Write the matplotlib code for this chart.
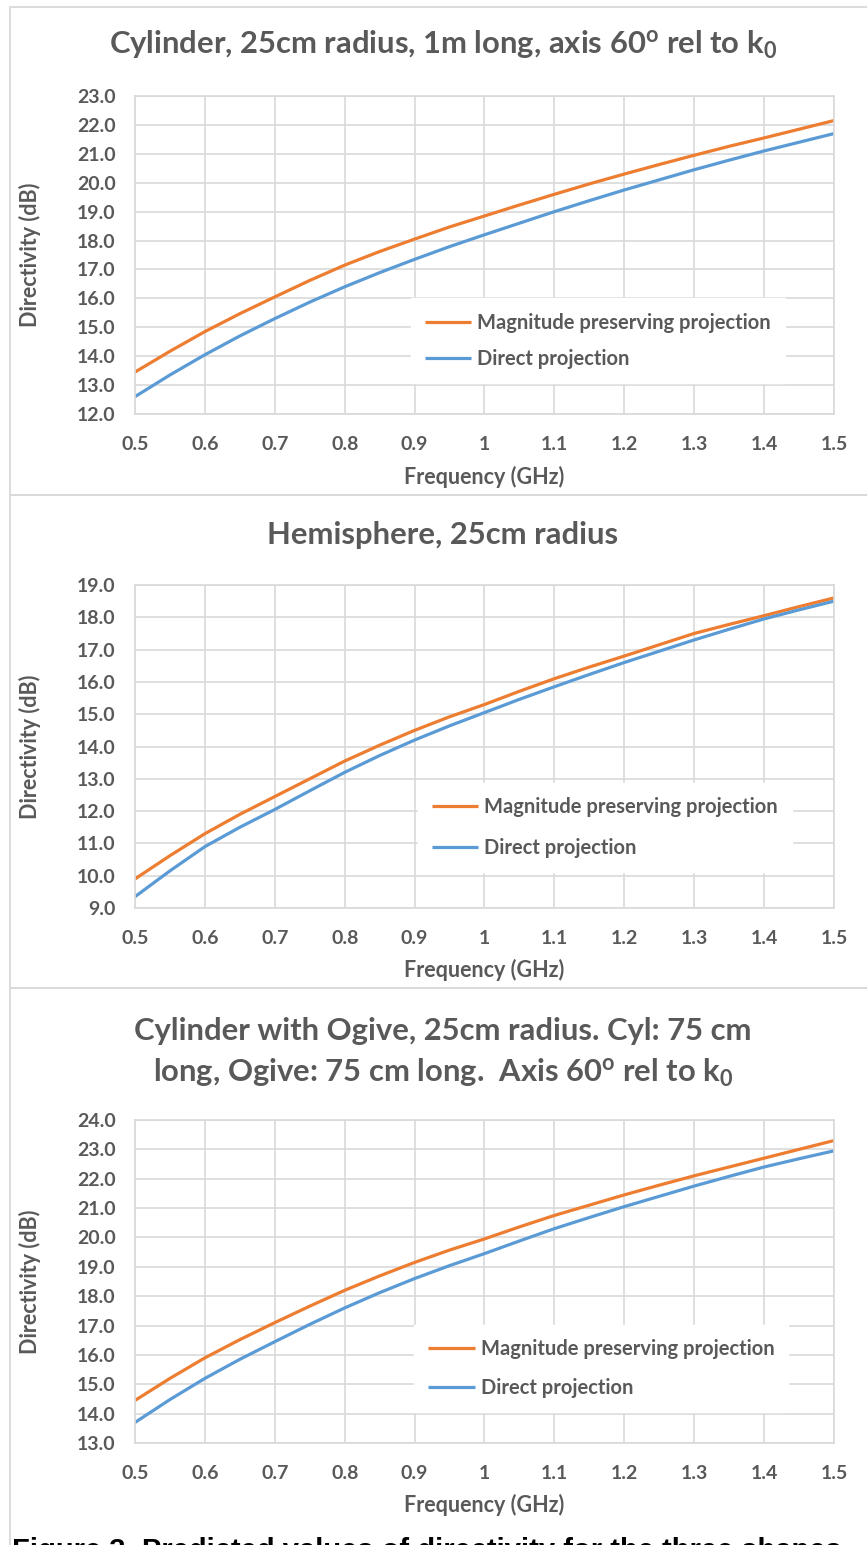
import matplotlib
matplotlib.use("Agg")
import matplotlib.pyplot as plt
from matplotlib.patches import Rectangle
import numpy as np

plt.rcParams['font.family'] = ['Lato', 'DejaVu Sans']
plt.rcParams['mathtext.fontset'] = 'custom'
plt.rcParams['mathtext.rm'] = 'Lato'
plt.rcParams['mathtext.it'] = 'Lato'
plt.rcParams['mathtext.bf'] = 'Lato:bold'

freq = [0.5, 0.55, 0.6, 0.65, 0.7, 0.75, 0.8, 0.85, 0.9, 0.95, 1.0,
        1.05, 1.1, 1.15, 1.2, 1.25, 1.3, 1.35, 1.4, 1.45, 1.5]

cyl_mag = [13.45, 14.17, 14.85, 15.47, 16.05, 16.62, 17.15, 17.62, 18.05, 18.47, 18.85,
           19.23, 19.6, 19.96, 20.3, 20.63, 20.95, 21.26, 21.55, 21.85, 22.15]
cyl_dir = [12.6, 13.35, 14.05, 14.7, 15.3, 15.87, 16.4, 16.89, 17.35, 17.79, 18.2,
           18.6, 19.0, 19.38, 19.75, 20.1, 20.45, 20.78, 21.1, 21.4, 21.7]

hemi_mag = [9.9, 10.62, 11.3, 11.9, 12.45, 13.0, 13.55, 14.04, 14.5, 14.92, 15.3,
            15.71, 16.1, 16.46, 16.8, 17.15, 17.5, 17.78, 18.05, 18.33, 18.6]
hemi_dir = [9.35, 10.15, 10.9, 11.5, 12.05, 12.63, 13.2, 13.72, 14.2, 14.64, 15.05,
            15.46, 15.85, 16.23, 16.6, 16.95, 17.3, 17.63, 17.95, 18.23, 18.5]

ogive_mag = [14.45, 15.2, 15.9, 16.52, 17.1, 17.66, 18.2, 18.69, 19.15, 19.57, 19.95,
             20.36, 20.75, 21.1, 21.45, 21.78, 22.1, 22.4, 22.7, 23.0, 23.3]
ogive_dir = [13.7, 14.48, 15.2, 15.85, 16.45, 17.04, 17.6, 18.12, 18.6, 19.04, 19.45,
             19.88, 20.3, 20.68, 21.05, 21.4, 21.75, 22.08, 22.4, 22.68, 22.95]

x_ticks = [0.5, 0.6, 0.7, 0.8, 0.9, 1.0, 1.1, 1.2, 1.3, 1.4, 1.5]
x_tick_labels = ['0.5', '0.6', '0.7', '0.8', '0.9', '1', '1.1', '1.2', '1.3', '1.4', '1.5']

titles = [r"Cylinder, 25cm radius, 1m long, axis 60$^{\mathbf{o}}$ rel to k$_{\mathbf{0}}$",
          "Hemisphere, 25cm radius",
          "Cylinder with Ogive, 25cm radius. Cyl: 75 cm\n"
          r"long, Ogive: 75 cm long.  Axis 60$^{\mathbf{o}}$ rel to k$_{\mathbf{0}}$"]
series_labels = ["Magnitude preserving projection", "Direct projection"]
ylims = [(12.0, 23.0), (9.0, 19.0), (13.0, 24.0)]

ORANGE = '#ED7D31'
BLUE = '#5B9BD5'
GRID = '#D9D9D9'
TXT = '#595959'

W, H = 867, 1545
fig = plt.figure(figsize=(W / 100, H / 100), dpi=100)

def fx(px):
    return px / W

def fy(py):
    return 1 - py / H

# panel boxes (px): top, bottom
panels = [(7, 495), (495, 988), (988, 1560)]
for top, bot in panels:
    fig.patches.append(Rectangle((fx(10), fy(bot)), fx(880) - fx(10), fy(top) - fy(bot),
                                 transform=fig.transFigure, fill=False,
                                 edgecolor=GRID, linewidth=1.3, zorder=0))

# axes: (top px, bottom px)
ax_pos = [(96, 414), (585, 908), (1120, 1443)]
title_y = [45, 535, 1053]
legend_anchor = [(0.38, 0.395), (0.39, 0.418), (0.385, 0.397)]
legend_spacing = [0.8, 1.05, 0.95]
data = [(cyl_mag, cyl_dir), (hemi_mag, hemi_dir), (ogive_mag, ogive_dir)]
xlabel_y = [477, 970, 1505]
FS = 14
LFS = 15.5

for i in range(3):
    top, bot = ax_pos[i]
    ax = fig.add_axes([fx(135), fy(bot), fx(834) - fx(135), (bot - top) / H])
    m, d = data[i]
    ax.plot(freq, m, color=ORANGE, lw=2.3, label=series_labels[0], solid_capstyle='butt')
    ax.plot(freq, d, color=BLUE, lw=2.3, label=series_labels[1], solid_capstyle='butt')
    ax.set_xlim(0.5, 1.5)
    ax.set_ylim(*ylims[i])
    ax.set_xticks(x_ticks)
    ax.set_xticklabels(x_tick_labels)
    yt = np.arange(ylims[i][0], ylims[i][1] + 0.5, 1.0)
    ax.set_yticks(yt)
    ax.set_yticklabels([f"{v:.1f}" for v in yt])
    ax.grid(True, color=GRID, lw=1.2)
    ax.set_axisbelow(True)
    for s in ax.spines.values():
        s.set_color(GRID)
        s.set_linewidth(1.2)
    ax.tick_params(length=0, labelsize=FS, labelcolor=TXT)
    for lab in ax.get_xticklabels() + ax.get_yticklabels():
        lab.set_fontweight('bold')
    ax.tick_params(axis='x', pad=16)
    ax.tick_params(axis='y', pad=14)
    fig.text(fx(30), fy((top + bot) / 2), "Directivity (dB)", rotation=90,
             ha='center', va='center', fontsize=LFS, fontweight='bold', color=TXT)
    fig.text(fx(484), fy(xlabel_y[i]), "Frequency (GHz)", ha='center', va='center',
             fontsize=LFS, fontweight='bold', color=TXT)
    fig.text(fx(443), fy(title_y[i]), titles[i], ha='center', va='center',
             fontsize=22.3, fontweight='bold', color=TXT, linespacing=1.45)
    leg = ax.legend(loc='upper left', bbox_to_anchor=legend_anchor[i], frameon=True,
                    fancybox=False, edgecolor='white', facecolor='white', framealpha=1,
                    handlelength=2.3, handletextpad=0.3, borderpad=0.7,
                    labelspacing=legend_spacing[i], prop={'size': 14.5, 'weight': 'bold'})
    for t in leg.get_texts():
        t.set_color(TXT)

fig.text(fx(12), fy(1537), "Figure 3. Predicted values of directivity for the three shapes",
         ha='left', va='top', fontsize=21, fontweight='bold', color='black',
         family='Liberation Sans')

fig.savefig("out.png", dpi=100)
